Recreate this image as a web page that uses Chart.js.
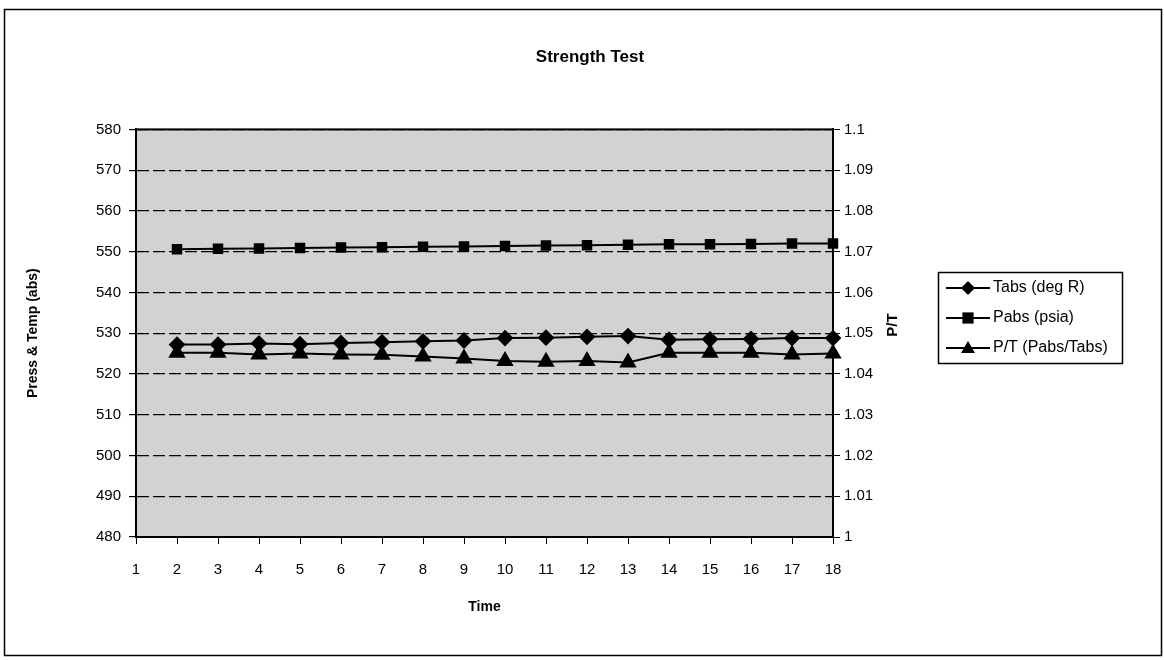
<!DOCTYPE html>
<html lang="en">
<head>
    <meta charset="UTF-8">
    <title>Strength Test</title>
    <script src="https://cdn.jsdelivr.net/npm/chart.js"></script>
    <style>
        html, body { margin: 0; padding: 0; background: #fff; }
        #wrap { width: 1164px; height: 660px; }
    </style>
</head>
<body>
<div id="wrap"><canvas id="strengthChart" width="1164" height="660"></canvas></div>

<script>
    // values
    const timeLabels = ['1', '2', '3', '4', '5', '6', '7', '8', '9', '10', '11', '12', '13', '14', '15', '16', '17', '18'];
    const tabsDegR = [null, 527.2, 527.2, 527.5, 527.3, 527.6, 527.8, 528.0, 528.2, 528.8, 528.9, 529.1, 529.3, 528.4, 528.5, 528.6, 528.8, 528.8];
    const pabsPsia = [null, 550.6, 550.7, 550.8, 550.9, 551.0, 551.1, 551.2, 551.3, 551.4, 551.5, 551.6, 551.7, 551.8, 551.8, 551.9, 552.0, 552.0];
    const ptRatio = [null, 1.0452, 1.0452, 1.0448, 1.0450, 1.0448, 1.0447, 1.0443, 1.0438, 1.0432, 1.0430, 1.0432, 1.0428, 1.0452, 1.0452, 1.0452, 1.0448, 1.0450];

    const seriesNames = ['Tabs (deg R)', 'Pabs (psia)', 'P/T (Pabs/Tabs)'];
    const markerStyles = ['rectRot', 'rect', 'triangle'];

    const FONT = "'Liberation Sans', Arial, sans-serif";

    function drawMarker(ctx, style, x, y, r) {
        ctx.beginPath();
        if (style === 'rectRot') {
            ctx.moveTo(x, y - r); ctx.lineTo(x + r, y); ctx.lineTo(x, y + r); ctx.lineTo(x - r, y);
        } else if (style === 'rect') {
            ctx.rect(x - r * 0.8, y - r * 0.8, r * 1.6, r * 1.6);
        } else {
            ctx.moveTo(x, y - r); ctx.lineTo(x + r, y + r * 0.7); ctx.lineTo(x - r, y + r * 0.7);
        }
        ctx.closePath();
        ctx.fill();
    }

    const framePlugin = {
        id: 'frame',
        beforeDraw(chart) {
            const {ctx, chartArea: a} = chart;
            ctx.save();
            ctx.fillStyle = '#ffffff';
            ctx.fillRect(0, 0, chart.width, chart.height);
            ctx.fillStyle = '#d2d2d2';
            ctx.fillRect(a.left, a.top, a.right - a.left, a.bottom - a.top);
            ctx.strokeStyle = '#000';
            ctx.lineWidth = 1.5;
            ctx.strokeRect(4.5, 9.5, chart.width - 7, chart.height - 14);
            ctx.restore();
        },
        beforeDatasetsDraw(chart) {
            const {ctx, chartArea: a} = chart;
            ctx.save();
            ctx.strokeStyle = '#000';
            ctx.lineWidth = 2;
            ctx.strokeRect(a.left, a.top, a.right - a.left, a.bottom - a.top);
            ctx.restore();
        },
        afterDraw(chart) {
            const {ctx} = chart;
            ctx.save();
            // right axis title, reads bottom to top
            ctx.translate(893, 325);
            ctx.rotate(-Math.PI / 2);
            ctx.fillStyle = '#000';
            ctx.font = 'bold 15px ' + FONT;
            ctx.textAlign = 'center';
            ctx.textBaseline = 'middle';
            ctx.fillText('P/T', 0, 0);
            ctx.restore();

            // legend box
            ctx.save();
            ctx.strokeStyle = '#000';
            ctx.lineWidth = 1.5;
            ctx.strokeRect(938.5, 272.5, 184, 91);
            ctx.fillStyle = '#000';
            ctx.font = '16px ' + FONT;
            ctx.textBaseline = 'middle';
            seriesNames.forEach((name, i) => {
                const y = 288 + i * 30;
                ctx.lineWidth = 2;
                ctx.beginPath();
                ctx.moveTo(946, y);
                ctx.lineTo(990, y);
                ctx.stroke();
                drawMarker(ctx, markerStyles[i], 968, y, 7);
                ctx.fillText(name, 993, y);
            });
            ctx.restore();
        }
    };

    new Chart(document.getElementById('strengthChart'), {
        type: 'line',
        data: {
            labels: timeLabels,
            datasets: [
                {
                    label: seriesNames[0],
                    data: tabsDegR,
                    yAxisID: 'y',
                    borderColor: '#000',
                    backgroundColor: '#000',
                    borderWidth: 2,
                    pointStyle: 'rectRot',
                    pointRadius: 7,
                    tension: 0
                },
                {
                    label: seriesNames[1],
                    data: pabsPsia,
                    yAxisID: 'y',
                    borderColor: '#000',
                    backgroundColor: '#000',
                    borderWidth: 2,
                    pointStyle: 'rect',
                    pointRadius: 6,
                    tension: 0
                },
                {
                    label: seriesNames[2],
                    data: ptRatio,
                    yAxisID: 'y1',
                    borderColor: '#000',
                    backgroundColor: '#000',
                    borderWidth: 2,
                    pointStyle: 'triangle',
                    pointRadius: 8,
                    tension: 0
                }
            ]
        },
        options: {
            responsive: false,
            animation: false,
            layout: { padding: { left: 16, right: 0, top: 0, bottom: 33 } },
            plugins: {
                legend: { display: false },
                tooltip: { enabled: false },
                title: {
                    display: true,
                    text: 'Strength Test',
                    color: '#000',
                    font: { family: FONT, size: 17, weight: 'bold' },
                    padding: { top: 47, bottom: 62 }
                }
            },
            scales: {
                x: {
                    type: 'category',
                    offset: false,
                    border: { display: true, color: '#000', width: 2 },
                    grid: { display: true, drawOnChartArea: false, color: '#000', tickLength: 7 },
                    ticks: { color: '#000', font: { family: FONT, size: 15 }, padding: 17, maxRotation: 0, autoSkip: false },
                    title: {
                        display: true,
                        text: 'Time',
                        color: '#000',
                        font: { family: FONT, size: 14, weight: 'bold' },
                        padding: { top: 0, bottom: 11 }
                    },
                    afterFit(scale) { scale.height = 90; }
                },
                y: {
                    position: 'left',
                    min: 480,
                    max: 580,
                    ticks: { stepSize: 10, color: '#000', font: { family: FONT, size: 15 }, padding: 8 },
                    border: { display: true, color: '#000', width: 2, dash: [12, 4] },
                    grid: { color: '#000', lineWidth: 1.2, tickLength: 7, tickBorderDash: [] },
                    title: {
                        display: true,
                        text: 'Press & Temp (abs)',
                        color: '#000',
                        font: { family: FONT, size: 14, weight: 'bold' },
                        padding: { top: 9, bottom: 0 }
                    },
                    afterFit(scale) { scale.width = 120; }
                },
                y1: {
                    position: 'right',
                    min: 1,
                    max: 1.1,
                    ticks: {
                        stepSize: 0.01,
                        color: '#000',
                        font: { family: FONT, size: 15 },
                        padding: 4,
                        callback: v => String(+v.toFixed(2))
                    },
                    border: { display: true, color: '#000', width: 2 },
                    grid: { drawOnChartArea: false, color: '#000', tickLength: 7 },
                    afterFit(scale) { scale.width = 331; }
                }
            }
        },
        plugins: [framePlugin]
    });
</script>
</body>
</html>
